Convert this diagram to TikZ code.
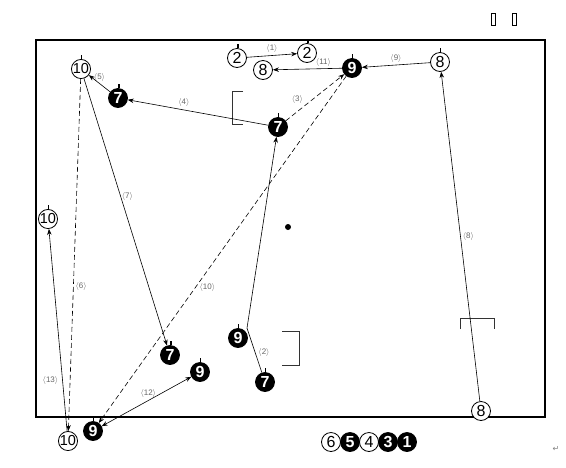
\documentclass[tikz,border=0pt]{standalone}
\usepackage{fontspec}
\setmainfont{Liberation Sans}
\newfontfamily\djv{DejaVu Sans}
\usetikzlibrary{arrows.meta,positioning}
\newcommand\angl[1]{$\langle$#1$\rangle$}
\begin{document}
\begin{tikzpicture}[x=1pt,y=-1pt,
  wn/.style={circle,draw,line width=0.8pt,fill=white,minimum size=19pt,inner sep=0pt,font=\fontsize{16}{16}\selectfont},
  bn/.style={circle,draw,line width=0.8pt,fill=black,text=white,minimum size=19pt,inner sep=0pt,font=\fontsize{16}{16}\selectfont\bfseries},
  two/.style={font=\fontsize{14.5}{14.5}\selectfont},
  lab/.style={font=\fontsize{8}{8}\selectfont,text=black!60,inner sep=1pt},
  conn/.style={line width=0.6pt,-{Stealth[length=6pt,width=4.5pt]}},
  dconn/.style={conn,dash pattern=on 5pt off 3pt},
  brk/.style={line width=0.8pt,draw=black!80},
  tofu/.style={draw,line width=0.9pt,minimum width=4pt,minimum height=12pt,inner sep=0pt}
]
\useasboundingbox (0,0) rectangle (566,467);
% frame
\draw[line width=1.2pt] (36,40) rectangle (545,417);
% tofu glyphs and return mark
\node[tofu] (t1) at (493,19) {};
\node[tofu] (t2) at (514,19) {};
\node[text=black!50,font=\djv\fontsize{8}{8}\selectfont] (ret) at (556,449) {↵};
% brackets
\draw[brk] (243,91) -- (232,91) -- (232,124) -- (243,124);
\draw[brk] (282,331) -- (299,331) -- (299,365) -- (282,365);
\draw[brk] (460,329) -- (460,318) -- (494,318) -- (494,329);
% dot
\fill (288,227) circle (3pt);
% nodes
\node[wn] (a2) at (237,58) {2};
\node[wn] (b2) at (307,53) {2};
\node[wn] (c8) at (263,70) {8};
\node[bn] (d9) at (352,68) {9};
\node[wn] (e8) at (440,62) {8};
\node[bn] (f7) at (278,127) {7};
\node[wn,two] (g10) at (81,69) {10};
\node[bn] (h7) at (118,98) {7};
\node[wn,two] (i10) at (48,219) {10};
\node[bn] (j9) at (238,338) {9};
\node[bn] (k7) at (265,382) {7};
\node[bn] (l7) at (170,355) {7};
\node[bn] (m9) at (200,372) {9};
\node[bn] (n9) at (93,431) {9};
\node[wn,two] (o10) at (68,441) {10};
\node[wn] (p8) at (481,411) {8};
% top marks
\foreach \n in {a2,b2,d9,e8,f7,g10,h7,i10,j9,k7,l7,m9,n9}
  \draw[line width=0.6pt] (\n.north) -- ++(0,-4);
\draw[line width=0.6pt] ([xshift=1.5pt]a2.north) -- ++(0,-4);
\draw[line width=0.6pt] ([xshift=1.5pt]b2.north) -- ++(0,-4);
\draw[line width=0.6pt] ([xshift=1.5pt]h7.north) -- ++(0,-4);
\draw[line width=0.6pt] ([xshift=1.5pt]l7.north) -- ++(0,-4);
% connectors
\draw[conn] (a2) -- node[lab,above=2pt] {\angl{1}} (b2);
\draw[conn] (d9) -- node[lab,above=1pt,pos=0.27] {\angl{11}} (c8);
\draw[conn] (e8) -- node[lab,above=1pt] {\angl{9}} (d9);
\draw[dconn] (f7) -- node[lab,above left=0pt and 2pt,pos=0.35] {\angl{3}} (d9);
\draw[conn] (f7) -- node[lab,above=2pt,pos=0.6] {\angl{4}} (h7);
\draw[conn] (h7) -- node[lab,above=1pt] {\angl{5}} (g10);
\draw[conn] (g10) -- node[lab,right=0pt,pos=0.44] {\angl{7}} (l7);
\draw[dconn] (g10) -- node[lab,right=1pt,pos=0.59] {\angl{6}} (o10);
\draw[dconn] (d9) -- node[lab,right=3pt,pos=0.61] {\angl{10}} (n9);
\draw[line width=0.6pt] ([xshift=9pt]j9.north) -- (k7);
\draw[conn] ([xshift=9pt]j9.north) -- (f7);
\node[lab] (l2) at (264,352) {\angl{2}};
\draw[conn] (p8) -- node[lab,right=1pt,pos=0.5] {\angl{8}} (e8);
\draw[line width=0.6pt,{Stealth[length=6pt,width=4.5pt]}-{Stealth[length=6pt,width=4.5pt]}] (n9) -- node[lab,above=2pt,pos=0.52] {\angl{12}} (m9);
\draw[conn] (o10) -- node[lab,left=3pt,pos=0.25] {\angl{13}} (i10);
% bottom legend
\node[wn] (q6) at (331,442) {6};
\node[bn] (q5) at (350,442) {5};
\node[wn] (q4) at (369,442) {4};
\node[bn] (q3) at (388,442) {3};
\node[bn] (q1) at (407,442) {1};
\end{tikzpicture}
\end{document}
